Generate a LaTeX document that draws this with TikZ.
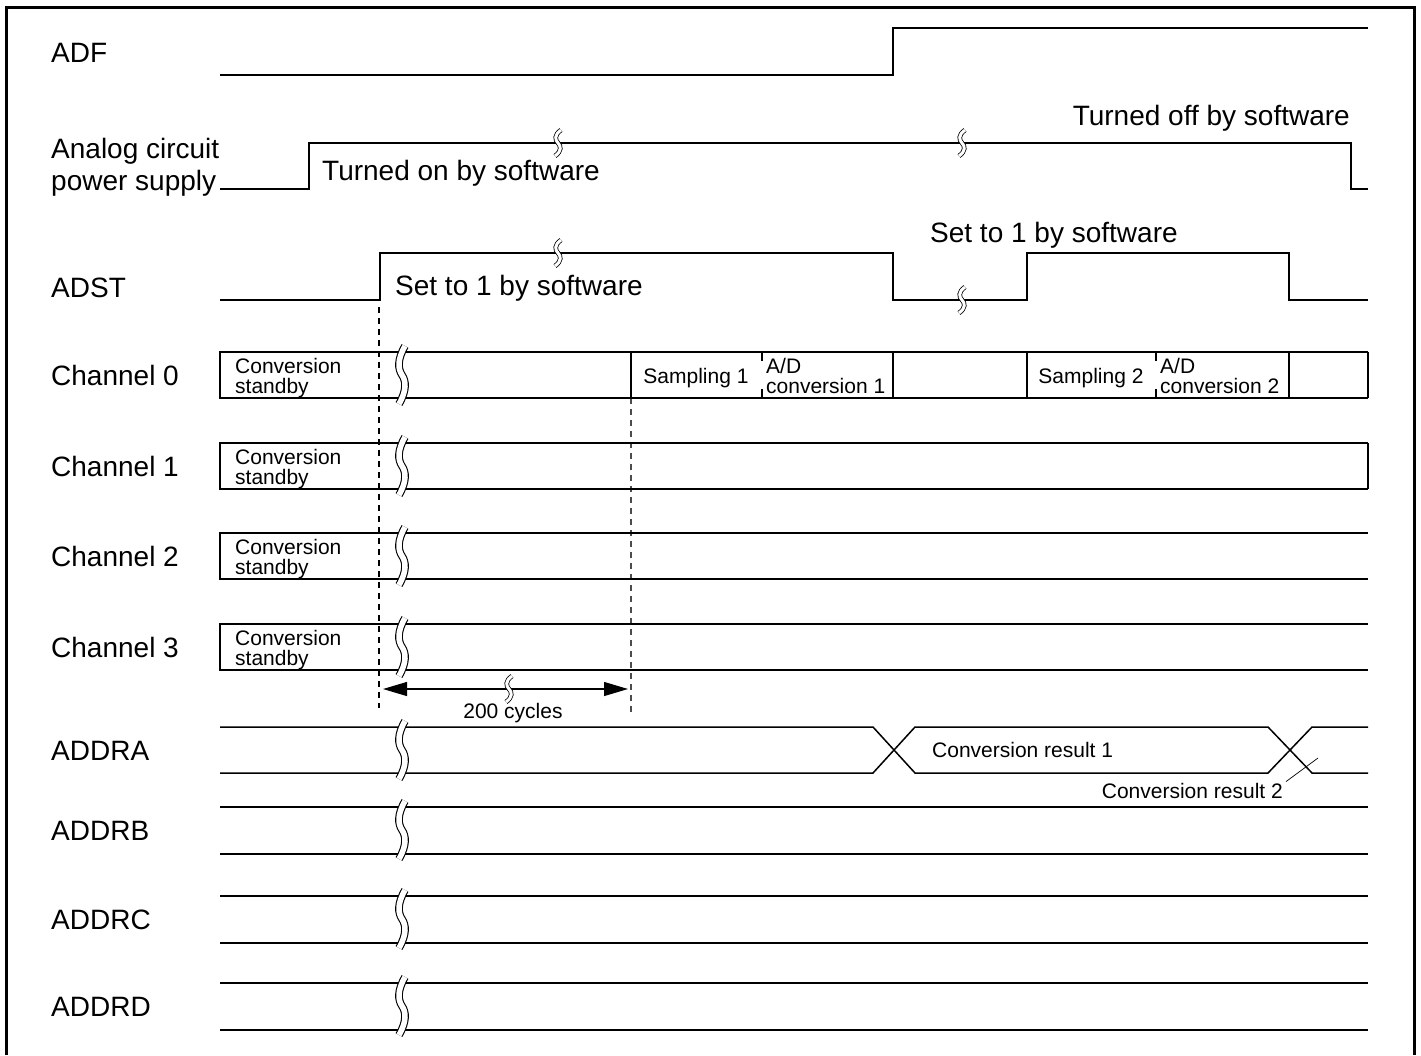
\documentclass[tikz,border=0pt]{standalone}
\usepackage{fontspec}
\setmainfont{Liberation Sans}
\usepackage{tikz}
\usetikzlibrary{arrows.meta}
\tikzset{
  sig/.style={line width=1.5pt},
  brk/.style={line width=1.1pt, double=white, double distance=5.5pt},
  brksm/.style={line width=0.8pt, double=white, double distance=3pt},
  lbl/.style={anchor=base west, inner sep=0pt, font=\fontsize{28}{32}\selectfont},
  sm/.style={anchor=base west, inner sep=0pt, align=left, font=\fontsize{21}{20}\selectfont},
  guide/.style={line width=1.1pt, dash pattern=on 6pt off 5pt},
}

\begin{document}
\begin{tikzpicture}[x=1pt,y=-1pt]
  \useasboundingbox (0,0) rectangle (1421,1055);
  \draw[line width=3pt] (6,1055) -- (6,7) -- (1414,7) -- (1414,1055);

  % ADF, power supply, ADST
  \node[lbl] (adf) at (51,62) {ADF};
  \draw[sig] (220,75) -- (893,75) -- (893,28) -- (1368,28);

  \node[lbl, align=left] (pwr) at (51,190) {Analog circuit\\power supply};
  \draw[sig] (220,189) -- (309,189) -- (309,143) -- (1351,143) -- (1351,189) -- (1368,189);
  \node[lbl] (pon) at (322,180) {Turned on by software};
  \node[lbl, anchor=base east] (poff) at (1350,125) {Turned off by software};

  \node[lbl] (adst) at (51,297) {ADST};
  \draw[sig] (220,300) -- (380,300) -- (380,253) -- (893,253) -- (893,300) -- (1027,300)
    -- (1027,253) -- (1289,253) -- (1289,300) -- (1368,300);
  \node[lbl] (set1) at (395,295) {Set to 1 by software};
  \node[lbl] (set2) at (930,242) {Set to 1 by software};

  \foreach \x/\y in {558/143,962/143,558/253,962/300}{
    \draw[brksm] (\x+3,\y-13) .. controls (\x-4,\y-8) and (\x-3,\y-3) .. (\x,\y)
      .. controls (\x+3,\y+3) and (\x+4,\y+8) .. (\x-3,\y+13);
  }

  % guides
  \coordinate (g1top) at (379,307);
  \coordinate (g1bot) at (379,708);
  \coordinate (g2top) at (631,398);
  \coordinate (g2bot) at (631,713);
  \draw[guide] (g1top) -- (g1bot);
  \draw[guide, black!70] (g2top) -- (g2bot);

  % channels
  \foreach \t/\n in {352/0,443/1,533/2,624/3}{
    \node[lbl] (ch\n) at (51,\t+33) {Channel \n};
    \draw[sig] (1368,\t) -- (220,\t) -- (220,\t+46) -- (1368,\t+46);
    \node[sm] (sb\n) at (235,\t+41) {Conversion\\standby};
  }
  \draw[sig] (1368,352) -- (1368,398) (1368,443) -- (1368,489);
  \draw[sig] (631,352) -- (631,398) (893,352) -- (893,398) (1027,352) -- (1027,398)
    (1289,352) -- (1289,398);
  \draw[sig] (762,352) -- (762,361) (762,389) -- (762,398)
    (1156,352) -- (1156,361) (1156,389) -- (1156,398);
  \node[sm, anchor=base] (smp1) at (696,383) {Sampling 1};
  \node[sm] (ad1) at (766,393) {A/D\\conversion 1};
  \node[sm, anchor=base] (smp2) at (1091,383) {Sampling 2};
  \node[sm] (ad2) at (1160,393) {A/D\\conversion 2};

  % 200 cycles
  \coordinate (c1) at (383,689);
  \coordinate (c2) at (628,689);
  \draw[line width=1.1pt, {Triangle[length=24pt,width=14pt]}-{Triangle[length=24pt,width=14pt]}] (c1) -- (c2);
  \draw[brksm] (512,676) .. controls (505,681) and (506,686) .. (509,689)
    .. controls (512,692) and (513,697) .. (506,702);
  \node[sm, anchor=base] (cyc) at (513,718) {200 cycles};

  % data registers
  \node[lbl] (addrA) at (51,760) {ADDRA};
  \draw[sig] (220,727) -- (873,727) -- (915,773) -- (1268,773) -- (1312,727) -- (1368,727);
  \draw[sig] (220,773) -- (873,773) -- (915,727) -- (1268,727) -- (1312,773) -- (1368,773);
  \node[sm] (res1) at (932,757) {Conversion result 1};
  \node[sm, anchor=base east] (res2) at (1283,798) {Conversion result 2};
  \coordinate (r2) at (1318,758);
  \draw[line width=0.7pt] (res2.north east) ++(3,-1) -- (r2);

  \foreach \t/\n in {807/B,896/C,983/D}{
    \node[lbl] (addr\n) at (51,\t+33) {ADDR\n};
    \draw[sig] (220,\t) -- (1368,\t) (220,\t+47) -- (1368,\t+47);
  }

  % breaks
  \foreach \t in {352,443,533,624,727,807,896,983}{
    \draw[brk] (405,\t-6) .. controls (397,\t+8) and (398,\t+17) .. (402,\t+23)
      .. controls (406,\t+29) and (407,\t+38) .. (399,\t+52);
  }
\end{tikzpicture}
\end{document}
